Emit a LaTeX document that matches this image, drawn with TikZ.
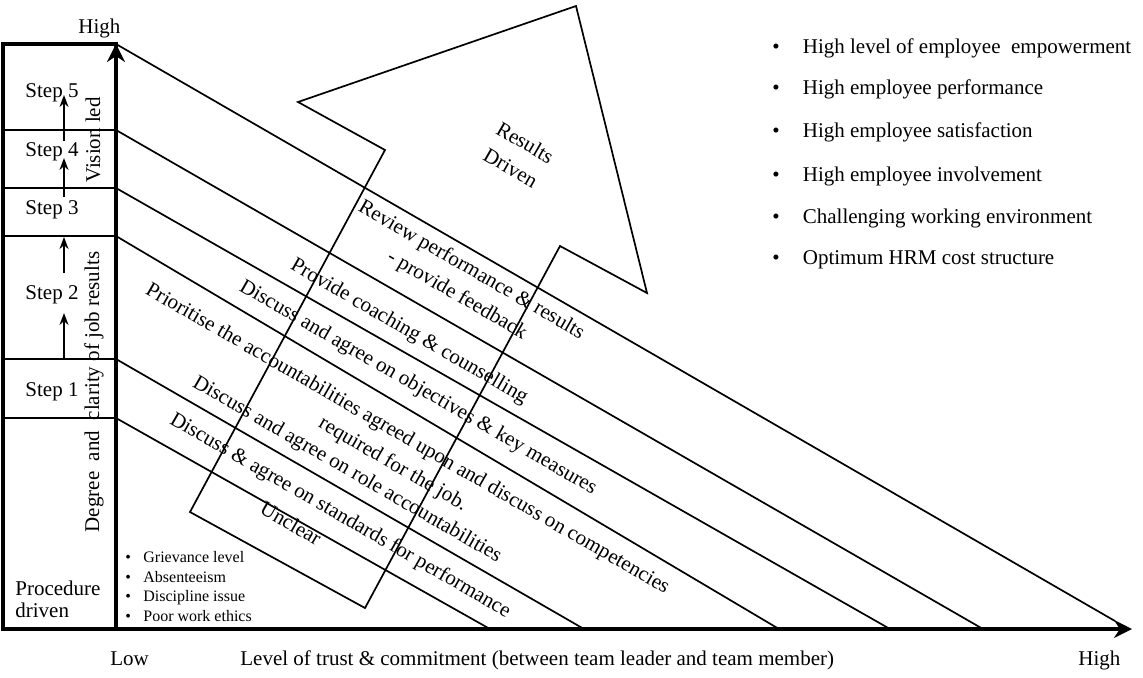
\documentclass[tikz,border=0pt]{standalone}
\usepackage{fontspec}
\setmainfont{Liberation Serif}
\usetikzlibrary{arrows.meta}
\begin{document}
\begin{tikzpicture}[x=0.5pt,y=-0.5pt,
  thinline/.style={line width=0.85pt},
  thickline/.style={line width=1.6pt},
  lbl/.style={font=\fontsize{10.5}{14.5}\selectfont, inner sep=0pt},
  diag/.style={lbl, rotate=-30, align=center},
  smalltxt/.style={font=\fontsize{8}{9.6}\selectfont, inner sep=0pt, anchor=base west},
  bigtxt/.style={lbl, anchor=base west},
  steparrow/.style={line width=0.85pt, -{Stealth[length=6pt,width=4.5pt]}},
  axisarrow/.style={thickline, -{Stealth[length=9pt,width=9pt]}},
]
\useasboundingbox (0,0) rectangle (1143,677);

% key coordinates
\coordinate (origin) at (116,629);
\coordinate (ytop) at (116,44);
\coordinate (xend) at (1132,629);
\coordinate (b5) at (116,130);
\coordinate (b4) at (116,188);
\coordinate (b3) at (116,236);
\coordinate (b2) at (116,359);
\coordinate (b1) at (116,418);
\coordinate (l5) at (3,130);
\coordinate (l4) at (3,188);
\coordinate (l3) at (3,236);
\coordinate (l2) at (3,359);
\coordinate (l1) at (3,418);
\coordinate (e0) at (1115,621);
\coordinate (e1) at (983,629);
\coordinate (e2) at (890,629);
\coordinate (e3) at (779,629);
\coordinate (e4) at (584,629);
\coordinate (e5) at (490,629);

% diagonal lines
\draw[thinline] (ytop) -- (e0);
\draw[thinline] (b5) -- (e1);
\draw[thinline] (b4) -- (e2);
\draw[thinline] (b3) -- (e3);
\draw[thinline] (b2) -- (e4);
\draw[thinline] (b1) -- (e5);

% big arrow
\coordinate (ta) at (190,512);
\coordinate (sa) at (385,150);
\coordinate (ba) at (298,102);
\coordinate (tip) at (576,6);
\coordinate (bb) at (647,293);
\coordinate (sb) at (560,246);
\coordinate (tb) at (365,608);
\draw[thinline] (ta) -- (sa) -- (ba) -- (tip) -- (bb) -- (sb) -- (tb) -- cycle;

% column
\draw[thickline] (3,44) rectangle (origin);
\draw[thinline] (l5) -- (b5);
\draw[thinline] (l4) -- (b4);
\draw[thinline] (l3) -- (b3);
\draw[thinline] (l2) -- (b2);
\draw[thinline] (l1) -- (b1);

% axes
\draw[axisarrow] (origin) -- (ytop);
\draw[axisarrow] (origin) -- (xend);

% step labels
\node[lbl] (s5) at (52,93) {Step 5};
\node[lbl] (s4) at (52,152) {Step 4};
\node[lbl] (s3) at (52,210) {Step 3};
\node[lbl] (s2) at (52,295) {Step 2};
\node[lbl] (s1) at (52,392) {Step 1};
\node[bigtxt] (proc1) at (15,595) {Procedure};
\node[bigtxt] (proc2) at (15,617) {driven};

% step arrows
\coordinate (a1s) at (64,359); \coordinate (a1e) at (64,313);
\coordinate (a2s) at (64,273); \coordinate (a2e) at (64,237);
\coordinate (a3s) at (64,197); \coordinate (a3e) at (64,158);
\coordinate (a4s) at (64,141); \coordinate (a4e) at (64,95);
\draw[steparrow] (a1s) -- (a1e);
\draw[steparrow] (a2s) -- (a2e);
\draw[steparrow] (a3s) -- (a3e);
\draw[steparrow] (a4s) -- (a4e);

% vertical texts
\node[lbl, rotate=90] (vision) at (93,140) {Vision led};
\node[lbl, rotate=90] (degree) at (94,392) {Degree\ \ and\ \ clarity of job results};

% axis labels
\node[bigtxt] (hightop) at (78,33) {High};
\node[bigtxt] (low) at (110,665) {Low};
\node[bigtxt] (xlabel) at (240,665) {Level of trust \& commitment (between team leader and team member)};
\node[bigtxt] (highright) at (1078,665) {High};

% diagonal texts
\node[diag] (t1) at (464,283) {Review performance \& results\\- provide feedback};
\node[diag] (t2) at (409,332) {Provide coaching \& counselling};
\node[diag] (t3) at (418,388) {Discuss and agree on objectives \& key measures};
\node[diag] (t4) at (400,452) {Prioritise the accountabilities agreed upon and discuss on competencies\\required for the job.};
\node[diag] (t5) at (347,470) {Discuss and agree on role accountabilities};
\node[diag] (t6) at (340,516) {Discuss \& agree on standards for performance};
\node[diag] (t7) at (291,523) {Unclear};
\node[diag] (res) at (518,155) {Results\\Driven};

% outcome list
\node[bigtxt] (o1) at (772,53) {\makebox[15.25pt][l]{\textbullet}High level of employee\ \ empowerment};
\node[bigtxt] (o2) at (772,94) {\makebox[15.25pt][l]{\textbullet}High employee performance};
\node[bigtxt] (o3) at (772,137) {\makebox[15.25pt][l]{\textbullet}High employee satisfaction};
\node[bigtxt] (o4) at (772,181) {\makebox[15.25pt][l]{\textbullet}High employee involvement};
\node[bigtxt] (o5) at (772,223) {\makebox[15.25pt][l]{\textbullet}Challenging working environment};
\node[bigtxt] (o6) at (772,264) {\makebox[15.25pt][l]{\textbullet}Optimum HRM cost structure};

% low-level list
\node[smalltxt] (p1) at (125,562) {\makebox[9pt][l]{\textbullet}Grievance level};
\node[smalltxt] (p2) at (125,582) {\makebox[9pt][l]{\textbullet}Absenteeism};
\node[smalltxt] (p3) at (125,601) {\makebox[9pt][l]{\textbullet}Discipline issue};
\node[smalltxt] (p4) at (125,621) {\makebox[9pt][l]{\textbullet}Poor work ethics};
\end{tikzpicture}
\end{document}
